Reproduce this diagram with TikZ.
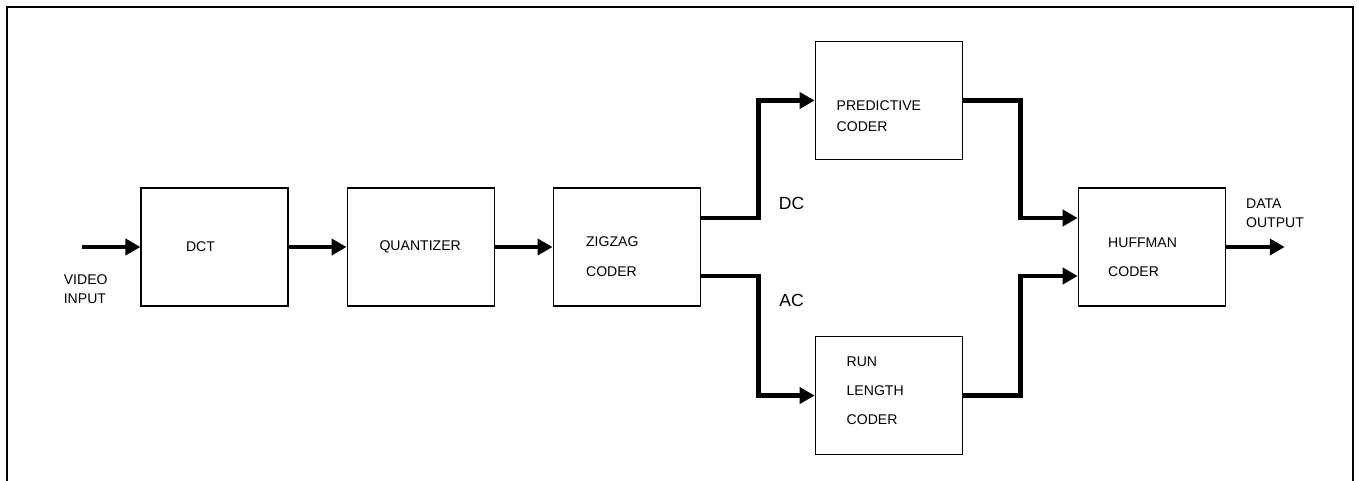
\documentclass[tikz,border=0pt]{standalone}
\usepackage{fontspec}
\setmainfont{Liberation Sans}
\usetikzlibrary{positioning,arrows.meta,calc}
\tikzset{
  fig/.style={font=\fontsize{8}{10}\selectfont},
  box/.style={draw,semithick,minimum height=23.6mm,minimum width=29.4mm,align=left,
              inner sep=2pt,font=\fontsize{8}{10}\selectfont},
  tpos/.style 2 args={text height=#1,text depth=#2},
  ln/.style={-{Triangle[length=3mm,width=3.2mm]},line width=2.6pt},
  lbl/.style={font=\fontsize{8}{10}\selectfont,inner sep=0pt,align=left},
  tag/.style={font=\fontsize{10}{12}\selectfont,inner sep=0pt},
  frame/.style={line width=1.1pt},
}

\begin{document}
\begin{tikzpicture}[fig]
\useasboundingbox (0,0) rectangle (27.18,-9.62);
\draw[frame] (0.14,-9.62) -- (0.14,-0.14) -- (27.06,-0.14) -- (27.06,-9.62);

\node[box,text width=11.4mm] (dct) at (4.29,-4.94) {DCT};
\node[box,text width=16.4mm,right=11.6mm of dct] (quant) {QUANTIZER};
\node[box,text width=16.2mm,tpos={3mm}{3mm},right=11.6mm of quant] (zig) {ZIGZAG\\[7pt]CODER};
\node[box,text width=20.8mm,tpos={5mm}{0.8mm},right=22.8mm of zig,yshift=29.3mm] (pred) {PREDICTIVE\\[1.4pt]CODER};
\node[box,text width=16.8mm,tpos={1mm}{12.6mm},below=35.2mm of pred] (run) {RUN\\[6.5pt]LENGTH\\[6.5pt]CODER};
\node[box,text width=17.4mm,tpos={3.2mm}{2.8mm},right=23mm of pred,yshift=-29.3mm] (huff) {HUFFMAN\\[6.5pt]CODER};

\coordinate[left=11.6mm of dct.west] (vin);
\coordinate[right=11.8mm of huff.east] (dout);

\draw[ln] (vin) -- (dct);
\draw[ln] (dct) -- (quant);
\draw[ln] (quant) -- (zig);
\draw[ln] ([yshift=5.8mm]zig.east) -- ++(11.6mm,0) |- (pred.west);
\draw[ln] ([yshift=-5.8mm]zig.east) -- ++(11.6mm,0) |- (run.west);
\draw[ln] (pred.east) -- ++(11.6mm,0) |- ([yshift=5.8mm]huff.west);
\draw[ln] (run.east) -- ++(11.6mm,0) |- ([yshift=-5.8mm]huff.west);
\draw[ln] (huff) -- (dout);

\node[lbl,anchor=west] (vinlbl) at ($(vin)+(-3.8mm,-8.5mm)$) {VIDEO\\[0.8pt]INPUT};
\node[lbl,anchor=west] (doutlbl) at ($(huff.east)+(4mm,6.7mm)$) {DATA\\[0.8pt]OUTPUT};
\node[tag] (dc) at ($(zig.east)+(18.2mm,8.8mm)$) {DC};
\node[tag] (ac) at ($(zig.east)+(18.2mm,-10.6mm)$) {AC};

\end{tikzpicture}
\end{document}
